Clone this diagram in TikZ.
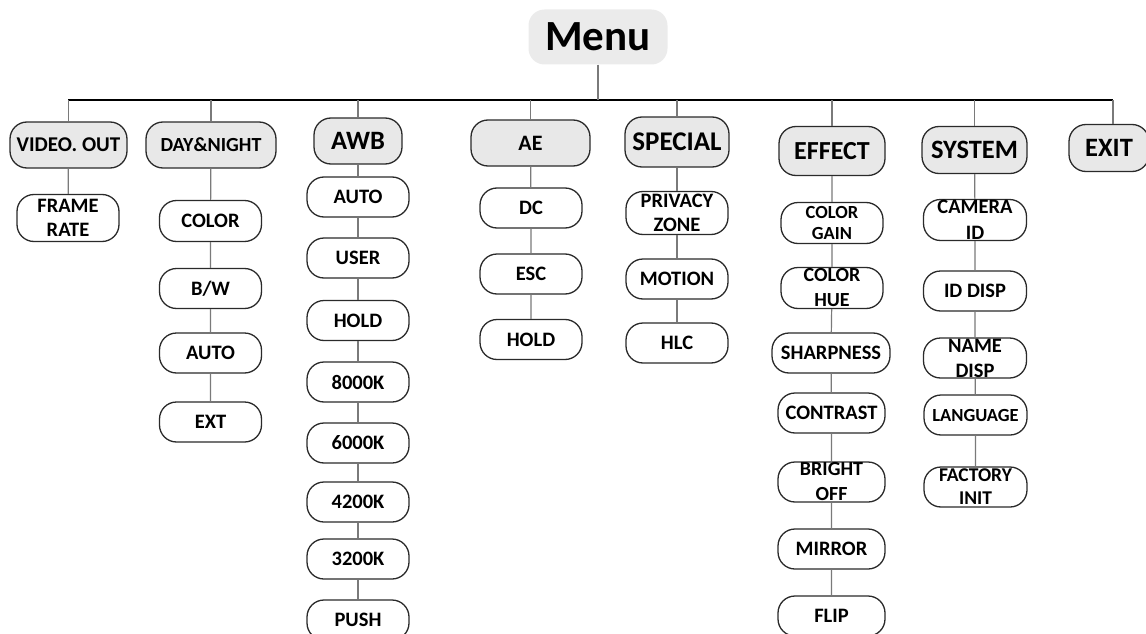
\documentclass[tikz,border=0pt]{standalone}
\usepackage{fontspec}
\setmainfont{Carlito}
\definecolor{hfill}{HTML}{E8E8E8}
\definecolor{mfill}{HTML}{EBEBEB}
\definecolor{edge}{HTML}{2A2A2A}
\definecolor{conn}{HTML}{7A7A7A}
\begin{document}
\begin{tikzpicture}[x=1pt,y=-1pt,
  base/.style={draw=edge, line width=1.3pt, rounded corners=17pt, inner sep=0pt},
  head/.style={base, fill=hfill, minimum height=46pt},
  child/.style={base, fill=white, minimum width=102pt, minimum height=40pt},
  txt/.style={label={[font=\bfseries\fontsize{20.5}{24}\selectfont, align=center, inner sep=0pt]center:{#1}}},
  txtn/.style n args={3}{label={[font=\bfseries\fontsize{#1}{#2}\selectfont, align=center, inner sep=0pt]center:{#3}}},
  hd/.style={font=\bfseries\fontsize{#1}{#1}\selectfont, inner sep=0pt},
  wire/.style={draw=conn, line width=1.2pt},
  bar/.style={draw=black, line width=1.1pt}]
\useasboundingbox (0,0) rectangle (1146,634);
% Menu
\node[fill=mfill, rounded corners=16pt, minimum width=139pt, minimum height=55pt, inner sep=0pt,
      font=\bfseries\fontsize{43}{43}\selectfont] (m) at (598,37) {Menu};
\coordinate (hl) at (68,100);
\coordinate (hr) at (1113,100);
\draw[bar] (hl) -- (hr);
\draw[wire] (m.south) -- (m.south |- hl);
% headers
\node[head, minimum width=117pt] (vo) at (68.5,145) {};
\node[hd=21] (vot) at (vo) {VIDEO. OUT};
\node[head, minimum width=130pt] (dn) at (211,145) {};
\node[hd=20] (dnt) at (dn) {DAY\&NIGHT};
\node[head, minimum width=88pt] (awb) at (358,141) {};
\node[hd=26.5] (awbt) at (awb) {AWB};
\node[head, minimum width=119pt] (ae) at (530.5,143) {};
\node[hd=22] (aet) at (ae) {AE};
\node[head, minimum width=104pt, minimum height=50pt] (sp) at (677,142) {};
\node[hd=27] (spt) at (sp) {SPECIAL};
\node[head, minimum width=106pt, minimum height=49pt] (ef) at (832,151) {};
\node[hd=26] (eft) at (ef) {EFFECT};
\node[head, minimum width=105pt, minimum height=47pt] (sy) at (974.5,150) {};
\node[hd=26.5] (syt) at (sy) {SYSTEM};
\node[head, minimum width=80pt, minimum height=47pt] (ex) at (1109,148) {};
\node[hd=26.5] (ext) at (ex) {EXIT};
% header drops
\foreach \h in {vo,dn,awb,ae,sp,ef,sy}{
  \draw[wire] (\h.north |- hl) -- (\h.north);
}
\draw[wire] (hr) -- (hr |- ex.north);
% VIDEO. OUT
\node[child, txt={FRAME\\RATE}, minimum height=47pt] (vo1) at (68,218) {};
% DAY&NIGHT
\node[child, txt=COLOR, minimum height=41pt] (dn1) at (210.5,221) {};
\node[child, txt=B/W] (dn2) at (210.5,288.5) {};
\node[child, txt=AUTO] (dn3) at (210.5,353) {};
\node[child, txt=EXT] (dn4) at (210.5,422) {};
% AWB
\node[child, txt=AUTO] (awb1) at (358,197) {};
\node[child, txt=USER] (awb2) at (358,258) {};
\node[child, txt=HOLD] (awb3) at (358,320.5) {};
\node[child, txt=8000K] (awb4) at (358,382) {};
\node[child, txt=6000K] (awb5) at (358,443) {};
\node[child, txt=4200K] (awb6) at (358,502) {};
\node[child, txt=3200K] (awb7) at (358,559) {};
\node[child, txt=PUSH] (awb8) at (358,620) {};
% AE
\node[child, txt=DC] (ae1) at (531,208) {};
\node[child, txt=ESC] (ae2) at (531,274) {};
\node[child, txt=HOLD] (ae3) at (531,339.5) {};
% SPECIAL
\node[child, txt={PRIVACY\\ZONE}, minimum height=43pt] (sp1) at (677,213) {};
\node[child, txt=MOTION] (sp2) at (677,279) {};
\node[child, txt=HLC] (sp3) at (677,343) {};
% EFFECT
\node[child, txtn={18.5}{21}{COLOR\\GAIN}, minimum height=41pt] (ef1) at (832,223) {};
\node[child, txtn={20}{25}{COLOR\\HUE}, minimum height=41pt] (ef2) at (832,288) {};
\node[child, txt=SHARPNESS, minimum width=118pt] (ef3) at (831,353) {};
\node[child, txt=CONTRAST, minimum width=107pt] (ef4) at (831.5,413) {};
\node[child, txtn={20}{25}{BRIGHT\\OFF}, minimum width=107pt] (ef5) at (831.5,482) {};
\node[child, txt=MIRROR, minimum width=107pt] (ef6) at (831.5,549) {};
\node[child, txt=FLIP, minimum width=107pt] (ef7) at (831.5,616) {};
% SYSTEM
\node[child, txtn={20.5}{26}{CAMERA\\ID}, minimum width=103pt, minimum height=41pt] (sy1) at (975,220) {};
\node[child, txt={ID DISP}, minimum width=103pt] (sy2) at (975,291) {};
\node[child, txtn={20.5}{25}{NAME\\DISP}, minimum width=103pt] (sy3) at (975,358) {};
\node[child, txtn={18.5}{20}{LANGUAGE}, minimum width=103pt] (sy4) at (975.5,415) {};
\node[child, txtn={19.5}{23}{FACTORY\\INIT}, minimum width=103pt] (sy5) at (975.5,487) {};
% chains
\draw[wire] (vo) -- (vo1);
\draw[wire] (dn) -- (dn1) (dn1) -- (dn2) (dn2) -- (dn3) (dn3) -- (dn4);
\draw[wire] (awb) -- (awb1) (awb1) -- (awb2) (awb2) -- (awb3) (awb3) -- (awb4)
  (awb4) -- (awb5) (awb5) -- (awb6) (awb6) -- (awb7) (awb7) -- (awb8);
\draw[wire] (ae) -- (ae1) (ae1) -- (ae2) (ae2) -- (ae3);
\draw[wire] (sp) -- (sp1) (sp1) -- (sp2) (sp2) -- (sp3);
\draw[wire] (ef) -- (ef1) (ef1) -- (ef2) (ef2) -- (ef3) (ef3) -- (ef4)
  (ef4) -- (ef5) (ef5) -- (ef6) (ef6) -- (ef7);
\draw[wire] (sy) -- (sy1) (sy1) -- (sy2) (sy2) -- (sy3) (sy3) -- (sy4) (sy4) -- (sy5);
\end{tikzpicture}
\end{document}
